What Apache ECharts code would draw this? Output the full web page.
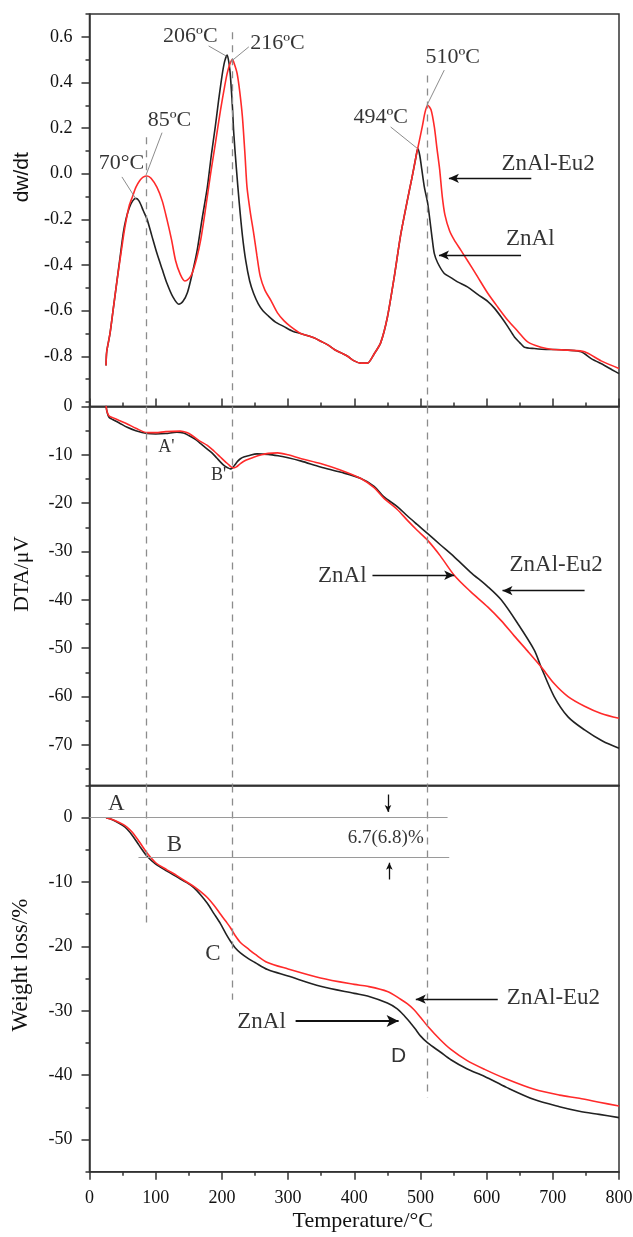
<!DOCTYPE html>
<html>
<head>
<meta charset="utf-8">
<script src="https://cdn.jsdelivr.net/npm/echarts@6/dist/echarts.min.js"></script>
<style>
  html, body { margin: 0; padding: 0; background: #fff; }
  #chart { width: 633px; height: 1237px; }
</style>
</head>
<body>
<div id="chart"></div>
<script>
// tick labels
const dwTicks = [-0.8, -0.6, -0.4, -0.2, 0.0, 0.2, 0.4, 0.6];
const dwMinor = [-1.0, -0.9, -0.8, -0.7, -0.6, -0.5, -0.4, -0.3, -0.2, -0.1, 0, 0.1, 0.2, 0.3, 0.4, 0.5, 0.6, 0.7];
const dtaTicks = [-70, -60, -50, -40, -30, -20, -10, 0];
const dtaMinor = [-75, -70, -65, -60, -55, -50, -45, -40, -35, -30, -25, -20, -15, -10, -5, 0];
const tgTicks = [-50, -40, -30, -20, -10, 0];
const tgMinor = [-55, -50, -45, -40, -35, -30, -25, -20, -15, -10, -5, 0, 5];

// dw/dt, ZnAl (black)
const dwTempZnAl = [25, 26, 31, 36, 41, 46, 51, 55, 60, 65, 70, 75, 81, 87, 94, 102, 110, 117, 126, 135, 141, 148, 155, 163, 170, 178, 184, 190, 195, 200, 204, 208, 211, 213, 216, 218, 222, 226, 231, 236, 242, 248, 255, 262, 269, 281, 294, 307, 319, 330, 340, 350, 360, 370, 380, 390, 400, 410, 420, 430, 440, 450, 460, 470, 480, 487, 493, 496, 499, 502, 506, 511, 518, 521, 526, 536, 546, 556, 571, 587, 602, 612, 622, 632, 642, 650, 657, 672, 690, 705, 723, 743, 758, 778, 790, 800];
const dwZnAl = [-0.84, -0.78, -0.70, -0.59, -0.48, -0.37, -0.26, -0.20, -0.15, -0.12, -0.108, -0.12, -0.16, -0.20, -0.27, -0.35, -0.42, -0.48, -0.54, -0.572, -0.56, -0.52, -0.44, -0.33, -0.20, -0.06, 0.08, 0.205, 0.32, 0.425, 0.49, 0.52, 0.48, 0.425, 0.29, 0.176, 0.02, -0.12, -0.27, -0.38, -0.47, -0.525, -0.57, -0.60, -0.62, -0.65, -0.67, -0.69, -0.70, -0.71, -0.72, -0.735, -0.75, -0.77, -0.785, -0.80, -0.82, -0.83, -0.83, -0.79, -0.74, -0.63, -0.46, -0.27, -0.12, -0.02, 0.07, 0.11, 0.08, 0.02, -0.06, -0.13, -0.29, -0.35, -0.39, -0.437, -0.455, -0.474, -0.496, -0.53, -0.56, -0.59, -0.628, -0.67, -0.715, -0.74, -0.76, -0.766, -0.77, -0.77, -0.773, -0.78, -0.81, -0.84, -0.86, -0.876];

// dw/dt, ZnAl-Eu2 (red)
const dwTempEu2 = [25, 26, 31, 36, 41, 46, 51, 55, 60, 65, 70, 76, 81, 87, 93, 102, 110, 117, 124, 130, 137, 144, 150, 155, 162, 168, 175, 183, 190, 198, 204, 208, 212, 216, 219, 223, 227, 231, 235, 238, 243, 248, 253, 258, 265, 274, 284, 294, 304, 319, 330, 340, 350, 360, 370, 380, 390, 400, 410, 420, 430, 440, 450, 460, 470, 480, 487, 493, 498, 503, 507, 511, 516, 521, 525, 529, 533, 537, 544, 551, 561, 571, 586, 602, 617, 632, 647, 662, 682, 700, 723, 748, 773, 800];
const dwEu2 = [-0.84, -0.78, -0.70, -0.59, -0.48, -0.38, -0.28, -0.21, -0.14, -0.10, -0.06, -0.03, -0.015, -0.01, -0.02, -0.06, -0.12, -0.20, -0.29, -0.38, -0.44, -0.47, -0.46, -0.437, -0.37, -0.29, -0.16, 0.0, 0.13, 0.28, 0.38, 0.44, 0.48, 0.50, 0.48, 0.44, 0.36, 0.25, 0.08, -0.06, -0.17, -0.26, -0.36, -0.45, -0.51, -0.555, -0.61, -0.645, -0.67, -0.70, -0.71, -0.72, -0.735, -0.75, -0.77, -0.785, -0.80, -0.82, -0.83, -0.83, -0.79, -0.74, -0.63, -0.46, -0.27, -0.12, -0.02, 0.07, 0.14, 0.21, 0.27, 0.30, 0.28, 0.205, 0.11, 0.02, -0.10, -0.18, -0.25, -0.29, -0.335, -0.38, -0.45, -0.525, -0.585, -0.642, -0.69, -0.737, -0.76, -0.77, -0.773, -0.78, -0.82, -0.853];

// DTA, ZnAl (black)
const dtaTempZnAl = [25, 26, 28, 30, 35, 45, 57, 70, 87, 100, 115, 132, 142, 150, 160, 168, 177, 185, 192, 198, 204, 208, 213, 216, 220, 224, 228, 234, 240, 253, 270, 285, 300, 320, 349, 380, 410, 430, 445, 465, 480, 495, 511, 530, 551, 575, 602, 622, 647, 672, 682, 702, 723, 748, 775, 800];
const dtaZnAl = [0.2, -0.8, -1.8, -2.3, -2.7, -3.4, -4.3, -5.0, -5.6, -5.7, -5.6, -5.3, -5.5, -6.0, -6.8, -7.7, -8.7, -9.6, -10.6, -11.5, -12.3, -12.6, -12.9, -12.7, -12.0, -11.3, -10.8, -10.4, -10.2, -9.8, -9.9, -10.2, -10.6, -11.3, -12.5, -13.6, -14.9, -16.5, -18.7, -20.7, -22.6, -24.4, -26.3, -28.6, -31.1, -34.2, -37.3, -40.0, -44.9, -50.4, -53.8, -60.0, -64.2, -66.9, -69.2, -70.7];

// DTA, ZnAl-Eu2 (red)
const dtaTempEu2 = [25, 26, 28, 30, 35, 45, 57, 70, 87, 100, 115, 137, 147, 155, 165, 178, 188, 198, 205, 210, 214, 218, 222, 228, 236, 248, 260, 270, 284, 300, 320, 349, 380, 410, 430, 445, 465, 480, 495, 511, 530, 551, 575, 602, 622, 642, 662, 682, 702, 723, 748, 773, 800];
const dtaEu2 = [0.2, -0.8, -1.6, -2.0, -2.3, -2.9, -3.6, -4.5, -5.4, -5.4, -5.2, -5.1, -5.4, -6.0, -7.0, -8.05, -9.2, -10.5, -11.4, -12.0, -12.5, -12.7, -12.5, -11.8, -11.1, -10.5, -10.0, -9.7, -9.6, -10.0, -10.8, -11.8, -13.2, -14.9, -16.8, -19.0, -21.3, -23.5, -25.6, -27.7, -30.9, -34.9, -38.2, -41.5, -44.3, -47.5, -50.6, -53.8, -57.3, -60.0, -62.0, -63.5, -64.5];

// weight loss, ZnAl (black)
const tgTempZnAl = [25, 32, 40, 50, 57, 65, 75, 87, 100, 117, 132, 147, 158, 168, 178, 188, 198, 206, 213, 220, 228, 240, 250, 269, 300, 349, 400, 420, 450, 465, 475, 485, 492, 500, 511, 530, 546, 570, 597, 630, 672, 710, 740, 770, 800];
const tgZnAl = [0, -0.2, -0.6, -1.2, -1.8, -2.8, -4.3, -6.0, -7.2, -8.3, -9.2, -10.1, -10.9, -12.0, -13.3, -14.9, -16.5, -18.0, -19.2, -20.2, -21.0, -21.9, -22.5, -23.6, -24.6, -26.2, -27.3, -27.7, -28.8, -29.7, -30.7, -31.9, -32.8, -33.9, -35.0, -36.4, -37.6, -39.0, -40.2, -41.9, -43.8, -44.9, -45.6, -46.1, -46.6];

// weight loss, ZnAl-Eu2 (red)
const tgTempEu2 = [25, 32, 40, 50, 57, 65, 75, 87, 100, 117, 132, 147, 158, 168, 178, 188, 198, 206, 213, 220, 228, 240, 250, 269, 300, 349, 400, 420, 450, 470, 480, 490, 500, 511, 530, 546, 570, 597, 630, 672, 710, 740, 770, 800];
const tgEu2 = [0, -0.2, -0.5, -1.0, -1.5, -2.3, -3.7, -5.5, -7.0, -8.1, -9.0, -10.0, -10.7, -11.5, -12.4, -13.6, -15.0, -16.1, -17.1, -18.3, -19.4, -20.4, -21.2, -22.5, -23.5, -24.9, -25.9, -26.2, -27.0, -28.2, -28.9, -29.8, -31.0, -32.4, -34.5, -36.0, -37.7, -39.1, -40.6, -42.2, -43.1, -43.6, -44.2, -44.8];

// peak temperatures marked with dashed lines
const peakLines = [86, 216, 510];

const BLACK = '#222';
const RED = '#ff2a2a';
const GRAY = '#8c8c8c';
const SERIF = '"Liberation Serif", "DejaVu Serif", serif';
const SANS = '"Liberation Sans", Arial, sans-serif';

const chart = echarts.init(document.getElementById('chart'));

function zip(xs, ys) {
  return xs.map((x, i) => [x, ys[i]]);
}

// one straight segment in data coordinates, optional arrow head at the end
function seg(a, b, color, width, type, arrow) {
  return [
    { coord: a, symbol: 'none', lineStyle: { color: color, width: width, type: type } },
    { coord: b, symbol: arrow ? 'arrow' : 'none', symbolSize: arrow || 0 }
  ];
}

function textItem(x, y, text, font, size) {
  return {
    value: [x, y],
    name: text,
    label: { fontFamily: font || SERIF, fontSize: size || 22, color: '#000' }
  };
}

function textSeries(idx, items) {
  return {
    type: 'scatter',
    xAxisIndex: idx,
    yAxisIndex: idx * 2,
    symbolSize: 1,
    itemStyle: { color: 'rgba(0,0,0,0)' },
    silent: true,
    z: 10,
    label: { show: true, position: 'inside', formatter: '{b}', color: '#000', textBorderWidth: 0 },
    data: items
  };
}

const grids = [
  { left: 89.5, width: 529.5, top: 14, height: 392.5 },
  { left: 89.5, width: 529.5, top: 406.5, height: 379 },
  { left: 89.5, width: 529.5, top: 785.5, height: 386.2 }
].map(g => Object.assign(g, { show: true, borderColor: '#333', borderWidth: 1.5, containLabel: false, outerBoundsMode: 'none' }));

const axisLineStyle = { color: '#333', width: 1.5 };
const labelStyle = { fontFamily: SERIF, fontSize: 18, color: '#111' };

function xAxis(idx, mode) {
  return {
    type: 'value', gridIndex: idx, min: 0, max: 800, interval: 100,
    axisLine: { show: true, onZero: false, lineStyle: axisLineStyle },
    axisTick: { show: mode !== 'none', inside: mode === 'inside', length: 8, lineStyle: axisLineStyle },
    minorTick: { show: mode !== 'none', splitNumber: 2, length: 4, lineStyle: axisLineStyle },
    axisLabel: Object.assign({ show: mode === 'label', margin: 18 }, labelStyle),
    splitLine: { show: false },
    name: mode === 'label' ? 'Temperature/°C' : '',
    nameLocation: 'middle', nameGap: 39,
    nameTextStyle: { fontFamily: SERIF, fontSize: 22, color: '#111', padding: [0, 0, 0, 17] }
  };
}

function yAxes(idx, min, max, ticks, minor, fmt, name, nameFont, nameSize, namePad, nameGap) {
  return [
    {
      type: 'value', gridIndex: idx, min: min, max: max, position: 'left',
      axisLine: { show: true, onZero: false, lineStyle: axisLineStyle },
      axisTick: { show: true, length: 8, customValues: ticks, lineStyle: axisLineStyle },
      axisLabel: Object.assign({ show: true, margin: 17, customValues: ticks, formatter: fmt }, labelStyle),
      splitLine: { show: false },
      name: name, nameLocation: 'middle', nameRotate: 90, nameGap: nameGap,
      nameTextStyle: { fontFamily: nameFont, fontSize: nameSize, color: '#111', padding: [0, 0, 0, namePad] }
    },
    {
      type: 'value', gridIndex: idx, min: min, max: max, position: 'left',
      axisLine: { show: false },
      axisTick: { show: true, length: 4, customValues: minor, lineStyle: axisLineStyle },
      axisLabel: { show: false },
      splitLine: { show: false }
    }
  ];
}

const option = {
  animation: false,
  backgroundColor: '#fff',
  grid: grids,
  xAxis: [xAxis(0, 'inside'), xAxis(1, 'none'), xAxis(2, 'label')],
  yAxis: [].concat(
    yAxes(0, -1.02, 0.7, dwTicks, dwMinor, v => v.toFixed(1), 'dw/dt', SANS, 21, 66, 55),
    yAxes(1, -78.4, 0, dtaTicks, dtaMinor, v => String(Math.round(v)), 'DTA/μV', SERIF, 21.5, 44, 56),
    yAxes(2, -55, 5, tgTicks, tgMinor, v => String(Math.round(v)), 'Weight loss/%', SERIF, 23, 27, 57)
  ),
  series: [
    // ---- dw/dt panel
    {
      type: 'line', name: 'ZnAl', xAxisIndex: 0, yAxisIndex: 0, showSymbol: false, smooth: 0.25,
      lineStyle: { color: BLACK, width: 1.6 }, z: 3,
      data: zip(dwTempZnAl, dwZnAl),
      markLine: {
        silent: true, animation: false, label: { show: false },
        data: [
          seg([peakLines[0], 0.16], [peakLines[0], -1.02], GRAY, 1.3, [7, 6]),
          seg([peakLines[1], 0.62], [peakLines[1], -1.02], GRAY, 1.3, [7, 6]),
          seg([peakLines[2], 0.43], [peakLines[2], -1.02], GRAY, 1.3, [7, 6]),
          seg([49, -0.014], [70, -0.11], GRAY, 1, 'solid'),
          seg([109.6, 0.18], [85.4, -0.006], GRAY, 1, 'solid'),
          seg([180, 0.56], [207, 0.515], GRAY, 1, 'solid'),
          seg([240.7, 0.556], [213, 0.49], GRAY, 1, 'solid'),
          seg([455, 0.205], [495.7, 0.11], GRAY, 1, 'solid'),
          seg([536, 0.454], [509.8, 0.30], GRAY, 1, 'solid'),
          seg([667.5, -0.02], [543, -0.02], '#111', 1.3, 'solid', [7, 10]),
          seg([652, -0.357], [528, -0.357], '#111', 1.3, 'solid', [7, 10])
        ]
      }
    },
    {
      type: 'line', name: 'ZnAl-Eu2', xAxisIndex: 0, yAxisIndex: 0, showSymbol: false, smooth: 0.25,
      lineStyle: { color: RED, width: 1.6 }, z: 4,
      data: zip(dwTempEu2, dwEu2)
    },
    textSeries(0, [
      textItem(48.2, 0.046, '70°C'),
      textItem(120.7, 0.235, '85ºC'),
      textItem(152.4, 0.603, '206ºC'),
      textItem(284, 0.57, '216ºC'),
      textItem(440, 0.246, '494ºC'),
      textItem(548.7, 0.509, '510ºC'),
      textItem(693, 0.044, 'ZnAl-Eu2', SERIF, 23),
      textItem(666, -0.287, 'ZnAl', SERIF, 23)
    ]),
    // ---- DTA panel
    {
      type: 'line', name: 'ZnAl', xAxisIndex: 1, yAxisIndex: 2, showSymbol: false, smooth: 0.3,
      lineStyle: { color: BLACK, width: 1.6 }, z: 3,
      data: zip(dtaTempZnAl, dtaZnAl),
      markLine: {
        silent: true, animation: false, label: { show: false },
        data: [
          seg([peakLines[0], 0], [peakLines[0], -78.4], GRAY, 1.3, [7, 6]),
          seg([peakLines[1], 0], [peakLines[1], -78.4], GRAY, 1.3, [7, 6]),
          seg([peakLines[2], 0], [peakLines[2], -78.4], GRAY, 1.3, [7, 6]),
          seg([427.5, -34.9], [551, -34.9], '#111', 1.3, 'solid', [7, 10]),
          seg([748, -38.1], [624, -38.1], '#111', 1.3, 'solid', [7, 10])
        ]
      }
    },
    {
      type: 'line', name: 'ZnAl-Eu2', xAxisIndex: 1, yAxisIndex: 2, showSymbol: false, smooth: 0.3,
      lineStyle: { color: RED, width: 1.6 }, z: 4,
      data: zip(dtaTempEu2, dtaEu2)
    },
    textSeries(1, [
      textItem(116, -8.36, "A'", SERIF, 18),
      textItem(195, -14.25, "B'", SERIF, 18),
      textItem(382, -35.1, 'ZnAl', SERIF, 23),
      textItem(705, -32.8, 'ZnAl-Eu2', SERIF, 23)
    ]),
    // ---- weight loss panel
    {
      type: 'line', name: 'ZnAl', xAxisIndex: 2, yAxisIndex: 4, showSymbol: false, smooth: 0.3,
      lineStyle: { color: BLACK, width: 1.6 }, z: 3,
      data: zip(tgTempZnAl, tgZnAl),
      markLine: {
        silent: true, animation: false, label: { show: false },
        data: [
          seg([peakLines[0], 5], [peakLines[0], -17], GRAY, 1.3, [7, 6]),
          seg([peakLines[1], 5], [peakLines[1], -28.3], GRAY, 1.3, [7, 6]),
          seg([peakLines[2], 5], [peakLines[2], -43.5], GRAY, 1.3, [7, 6]),
          seg([0, 0], [541, 0], '#9a9a9a', 1.2, 'solid'),
          seg([74, -6.07], [543.5, -6.07], '#9a9a9a', 1.2, 'solid'),
          seg([451, 3.6], [451, 0.9], '#111', 1.3, 'solid', [5, 7]),
          seg([453, -9.6], [453, -7.0], '#111', 1.3, 'solid', [5, 7]),
          seg([311.4, -31.6], [467, -31.6], '#111', 2, 'solid', [9, 12]),
          seg([616.8, -28.2], [493, -28.2], '#111', 1.3, 'solid', [7, 10])
        ]
      }
    },
    {
      type: 'line', name: 'ZnAl-Eu2', xAxisIndex: 2, yAxisIndex: 4, showSymbol: false, smooth: 0.3,
      lineStyle: { color: RED, width: 1.6 }, z: 4,
      data: zip(tgTempEu2, tgEu2)
    },
    textSeries(2, [
      textItem(40.4, 2.2, 'A', SERIF, 23),
      textItem(128.2, -4.3, 'B', SERIF, 23),
      textItem(186.5, -21.2, 'C', SERIF, 23),
      textItem(467, -37, 'D', SANS, 21),
      textItem(260, -31.7, 'ZnAl', SERIF, 23),
      textItem(701, -28, 'ZnAl-Eu2', SERIF, 23),
      textItem(447.6, -3.2, '6.7(6.8)%', SERIF, 19)
    ])
  ]
};

chart.setOption(option);
</script>
</body>
</html>
